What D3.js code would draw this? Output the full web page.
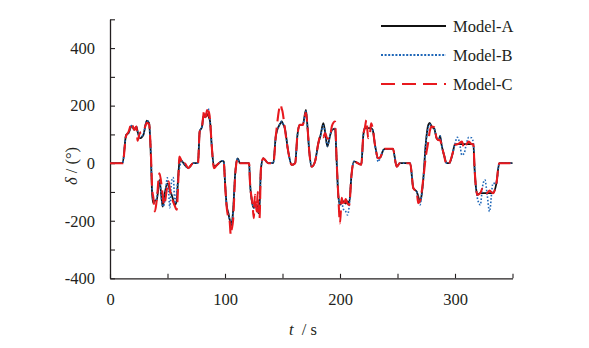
<!DOCTYPE html>
<html>
<head>
<meta charset="utf-8">
<script src="https://cdn.jsdelivr.net/npm/d3@7/dist/d3.min.js"></script>
<style>
  html, body { margin: 0; padding: 0; background: #fff; }
  svg { display: block; }
</style>
</head>
<body>
<svg id="chart" width="589" height="348"></svg>
<script>
// Time samples (s) shared by the three steering-angle traces
const time = [
  0, 11, 14, 16, 19, 21, 23, 24, 26, 29, 32, 34, 35.5, 36.7, 37.7, 39, 40.6, 43, 45.8, 47,
  49.9, 51, 52, 53.6, 55, 56.5, 58, 59.4, 60.3, 61.5, 63, 65, 68, 72.4, 76.5, 78, 80, 81, 82, 83,
  84.5, 85.5, 86, 87, 88.4, 90.4, 93, 97.5, 99, 100, 101.4, 103, 104, 105, 105.8, 107, 109, 111, 113, 121,
  121.7, 124, 125, 126, 127.5, 128.5, 129, 130, 131.3, 133.3, 137.6, 142, 144.3, 148.4, 149.3, 150, 152, 155, 158, 161,
  163, 165, 167.6, 170.4, 171.6, 173.3, 175.4, 178.3, 181.2, 183, 185.5, 187, 189, 191.5, 193, 195.7, 197.1, 198.5, 200, 201.5,
  203, 205, 206.5, 208, 210, 212, 218.5, 220.3, 221.6, 223, 224.5, 226, 227, 228.5, 230.4, 233.3, 235, 237.7, 239, 246,
  249.3, 252, 261, 263.8, 266.7, 268, 269.6, 271, 272.5, 274.5, 276.8, 278, 279.7, 282, 284, 286, 287, 288.5, 290.4, 292.8,
  295, 298, 299.8, 302, 304, 306, 308, 310, 312, 314.5, 316, 317, 318.3, 319.4, 322, 324, 326, 328, 330, 333,
  336, 338.5, 350
];

const modelA = [
  0, 0, 98, 104, 130, 116, 127, 110, 87, 98, 148, 139, 29, -110, -139, -130, -130, -58, -151, -120,
  -70, -80, -95, -110, -128, -145, -130, -41, 0, 12, 5, -6, -17, 0, 0, 110, 127, 157, 165, 160,
  170, 165, 160, 145, 64, -12, -6, 8, 5, -64, -145, -175, -195, -205, -215, -168, -29, 17, 0, 0,
  -64, -145, -155, -151, -145, -160, -174, -150, -17, 17, 0, 0, 98, 140, 145, 140, 122, 40, -6, 0,
  98, 133, 133, 185, 133, 40, -12, 6, 70, 95, 139, 110, 58, 98, 115, 120, 6, -110, -145, -130,
  -133, -140, -133, -139, -41, 6, -5, 98, 122, 122, 122, 122, 122, 115, 64, 17, 20, 46, 50, 50,
  -12, 0, 0, -87, -99, -115, -134, -110, -52, 64, 133, 140, 127, 120, 87, 80, 95, 60, 29, 0,
  0, 35, 64, 66, 66, 66, 66, 66, 66, 66, 66, -17, -87, -110, -104, -104, -104, -104, -104, -104,
  -70, 0, 0
];

const modelB = [
  0, 0, 98, 104, 132, 118, 127, 110, 90, 100, 148, 139, 40, -100, -130, -135, -120, -60, -150, -145,
  -51, -100, -155, -60, -50, -140, -100, -45, -20, 0, 5, -6, -17, 0, 0, 110, 127, 157, 170, 165,
  180, 190, 175, 145, 64, -12, -6, 8, 5, -64, -145, -175, -195, -205, -210, -170, -29, 17, 0, 0,
  -64, -145, -155, -151, -145, -160, -174, -150, -17, 17, 0, 0, 98, 140, 145, 140, 122, 40, -6, 0,
  98, 133, 133, 180, 133, 40, -12, 6, 70, 95, 130, 110, 60, 98, 115, 120, 6, -110, -145, -140,
  -160, -168, -180, -150, -41, 6, -5, 98, 122, 122, 122, 122, 122, 115, 64, 5, 20, 46, 50, 50,
  -12, 0, 0, -87, -99, -130, -145, -110, -52, 64, 125, 135, 127, 120, 87, 80, 95, 60, 29, 0,
  0, 35, 64, 90, 70, 28, 35, 70, 90, 88, 70, -17, -87, -120, -145, -80, -58, -110, -168, -70,
  -70, 0, 0
];

const modelC = [
  0, 0, 95, 108, 139, 116, 127, 78, 105, 110, 140, 135, 40, -90, -120, -168, -130, -35, -110, -145,
  -80, -64, -90, -120, -135, -150, -162, -60, 23, 15, -6, 0, -17, 0, 0, 110, 127, 160, 185, 160,
  185, 160, 180, 150, 64, -17, -6, 5, 0, -70, -150, -190, -200, -249, -230, -200, -35, 15, 0, 0,
  -64, -145, -191, -110, -168, -99, -150, -191, -17, 17, 0, 0, 98, 203, 190, 180, 122, 40, -6, 0,
  98, 133, 133, 175, 133, 40, -12, 6, 70, 98, 90, 105, 85, 98, 130, 145, 6, -110, -209, -120,
  -150, -125, -140, -145, -41, 6, -5, 98, 122, 150, 87, 100, 139, 120, 64, 17, 20, 46, 50, 50,
  -12, 0, 0, -87, -99, -139, -130, -100, -52, 20, 75, 110, 127, 125, 87, 80, 80, 60, 29, -6,
  0, 35, 64, 66, 70, 75, 52, 66, 75, 66, 66, -17, -87, -110, -104, -87, -100, -104, -95, -104,
  -70, 0, 0
];

// Axis ticks
const xTicks = [0, 50, 100, 150, 200, 250, 300, 350];
const xTickLabels = [0, 100, 200, 300];
const yTicks = [-400, -300, -200, -100, 0, 100, 200, 300, 400, 500];
const yTickLabels = [-400, -200, 0, 200, 400];

const seriesNames = ["Model-A", "Model-B", "Model-C"];
const seriesValues = [modelA, modelB, modelC];

const styles = {
  "Model-A": { stroke: "#111111", width: 1.8, dash: null, legendDash: null },
  "Model-B": { stroke: "#1f67b8", width: 1.6, dash: "1.6,1.8", legendDash: "2,1.6" },
  "Model-C": { stroke: "#e8191e", width: 2.1, dash: "13,6", legendDash: "14,7" }
};

const serif = "'Liberation Serif', 'Times New Roman', Times, serif";
const svg = d3.select("#chart").attr("font-family", serif);
const axisColor = "#231f20";
const fontSize = 16.5;

const x = d3.scaleLinear().domain([0, 350]).range([110, 512.5]);
const y = d3.scaleLinear().domain([-400, 500]).range([278.3, 19.3]);

// x axis, ticks pointing into the plot
const xAxis = svg.append("g")
  .attr("transform", `translate(0,${y(-400)})`)
  .call(d3.axisBottom(x)
    .tickValues(xTicks)
    .tickSize(-4.5)
    .tickSizeOuter(0)
    .tickPadding(15)
    .tickFormat(d => xTickLabels.includes(d) ? d : ""));

// y axis, ticks pointing into the plot
const yAxis = svg.append("g")
  .attr("transform", `translate(${x(0)},0)`)
  .call(d3.axisLeft(y)
    .tickValues(yTicks)
    .tickSize(-5)
    .tickSizeOuter(0)
    .tickPadding(15)
    .tickFormat(d => yTickLabels.includes(d) ? d : ""));

[xAxis, yAxis].forEach(g => {
  g.attr("font-family", serif).attr("font-size", fontSize);
  g.select(".domain").attr("stroke", axisColor).attr("stroke-width", 1.3);
  g.selectAll(".tick line").attr("stroke", axisColor).attr("stroke-width", 1.1);
  g.selectAll(".tick text").attr("fill", axisColor);
});

// Traces
const line = d3.line()
  .x((d, i) => x(time[i]))
  .y(d => y(d))
  .curve(d3.curveMonotoneX);

seriesNames.forEach((name, k) => {
  const s = styles[name];
  svg.append("path")
    .datum(seriesValues[k])
    .attr("fill", "none")
    .attr("stroke", s.stroke)
    .attr("stroke-width", s.width)
    .attr("stroke-linejoin", "round")
    .attr("stroke-dasharray", s.dash)
    .attr("d", line);
});

// Legend
const legendY = [26, 55, 84];
const legend = svg.append("g");
seriesNames.forEach((name, k) => {
  const s = styles[name];
  legend.append("line")
    .attr("x1", 381).attr("x2", 446)
    .attr("y1", legendY[k]).attr("y2", legendY[k])
    .attr("stroke", s.stroke)
    .attr("stroke-width", name === "Model-B" ? 2 : 2.2)
    .attr("stroke-dasharray", s.legendDash);
  legend.append("text")
    .attr("x", 453)
    .attr("y", legendY[k] + 5.8)
    .attr("fill", axisColor)
    .attr("font-size", fontSize)
    .text(name);
});

// Axis titles
const yTitle = svg.append("text")
  .attr("transform", "translate(77,166) rotate(-90)")
  .attr("text-anchor", "middle")
  .attr("fill", axisColor)
  .attr("font-size", fontSize);
yTitle.append("tspan").attr("font-style", "italic").text("δ");
yTitle.append("tspan").text(" / (°)");

const xTitle = svg.append("text")
  .attr("x", 303)
  .attr("y", 335)
  .attr("text-anchor", "middle")
  .attr("fill", axisColor)
  .attr("font-size", fontSize);
xTitle.append("tspan").attr("font-style", "italic").text("t");
xTitle.append("tspan").attr("xml:space", "preserve").text("  / s");
</script>
</body>
</html>
